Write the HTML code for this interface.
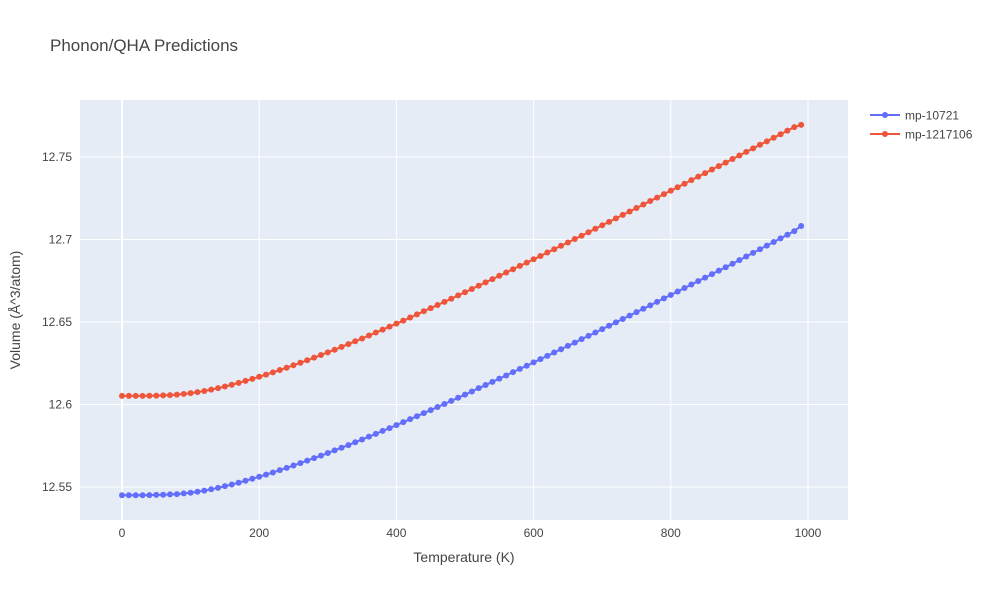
<!DOCTYPE html>
<html><head><meta charset="utf-8"><style>body{margin:0;background:#fff}svg text{font-family:"Liberation Sans",sans-serif}</style></head>
<body>
<svg id="c" width="1000" height="600">
<rect width="1000" height="600" fill="#fff"/>
<text x="50" y="51" font-size="17" fill="#444">Phonon/QHA Predictions</text>
<rect x="80" y="100" width="768" height="420" fill="#e5ecf6"/>
<g id="grid"></g><g id="marks"></g>
<text x="464" y="562" font-size="14" fill="#444" text-anchor="middle">Temperature (K)</text>
<text transform="translate(20,310) rotate(-90)" font-size="14" fill="#444" text-anchor="middle">Volume (Å^3/atom)</text>
<g>
<g><line x1="870" y1="115" x2="900" y2="115" stroke="#636efa" stroke-width="2"/><circle cx="885" cy="115" r="3" fill="#636efa"/><text x="905" y="119.5" font-size="12" fill="#444">mp-10721</text></g>
<g><line x1="870" y1="134" x2="900" y2="134" stroke="#ef553b" stroke-width="2"/><circle cx="885" cy="134" r="3" fill="#ef553b"/><text x="905" y="138.5" font-size="12" fill="#444">mp-1217106</text></g>
</g>
</svg>
<script>
const temps=[];for(let t=0;t<=990;t+=10)temps.push(t);
const blue=[12.5450,12.5450,12.5450,12.5450,12.5451,12.5452,12.5453,12.5455,12.5457,12.5461,
12.5465,12.5471,12.5478,12.5486,12.5495,12.5505,12.5515,12.5526,12.5538,12.5550,
12.5562,12.5575,12.5588,12.5602,12.5616,12.5630,12.5645,12.5660,12.5675,12.5690,
12.5706,12.5722,12.5738,12.5754,12.5771,12.5788,12.5805,12.5822,12.5840,12.5857,
12.5875,12.5893,12.5911,12.5929,12.5948,12.5966,12.5985,12.6003,12.6022,12.6041,
12.6060,12.6079,12.6099,12.6118,12.6137,12.6157,12.6176,12.6196,12.6216,12.6235,
12.6255,12.6275,12.6295,12.6315,12.6335,12.6355,12.6375,12.6396,12.6416,12.6436,
12.6457,12.6477,12.6498,12.6518,12.6539,12.6560,12.6580,12.6601,12.6622,12.6643,
12.6664,12.6685,12.6706,12.6727,12.6748,12.6769,12.6790,12.6811,12.6832,12.6853,
12.6875,12.6897,12.6919,12.6941,12.6963,12.6985,12.7007,12.7029,12.7051,12.7082];
const red=[12.6052,12.6052,12.6052,12.6052,12.6053,12.6054,12.6055,12.6057,12.6060,12.6064,
12.6069,12.6075,12.6082,12.6090,12.6099,12.6109,12.6120,12.6131,12.6143,12.6155,
12.6168,12.6181,12.6195,12.6209,12.6223,12.6238,12.6253,12.6268,12.6284,12.6300,
12.6316,12.6332,12.6349,12.6366,12.6383,12.6400,12.6418,12.6436,12.6454,12.6472,
12.6490,12.6508,12.6527,12.6546,12.6565,12.6584,12.6603,12.6622,12.6641,12.6661,
12.6680,12.6700,12.6720,12.6740,12.6760,12.6780,12.6800,12.6820,12.6840,12.6860,
12.6880,12.6900,12.6921,12.6941,12.6962,12.6982,12.7003,12.7023,12.7044,12.7065,
12.7086,12.7107,12.7128,12.7149,12.7170,12.7191,12.7212,12.7233,12.7254,12.7275,
12.7296,12.7317,12.7338,12.7360,12.7381,12.7402,12.7424,12.7445,12.7466,12.7488,
12.7509,12.7531,12.7552,12.7574,12.7595,12.7617,12.7638,12.7660,12.7681,12.7695];
const xTicks=[0,200,400,600,800,1000];
const yTicks=[12.55,12.6,12.65,12.7,12.75];
const yTickLabels=["12.55","12.6","12.65","12.7","12.75"];
const NS="http://www.w3.org/2000/svg";
const xs=v=>122+v*0.686;
const ys=v=>487-(v-12.55)*1650;
const grid=document.getElementById('grid'),marks=document.getElementById('marks');
function mk(tag,attrs,parent){const e=document.createElementNS(NS,tag);for(const k in attrs)e.setAttribute(k,attrs[k]);parent.appendChild(e);return e;}
xTicks.forEach(t=>{
  const l=mk('line',{x1:xs(t),x2:xs(t),y1:100,y2:520,stroke:'#fff','stroke-width':t===0?2:1},grid);
  
  
  const tx=mk('text',{x:xs(t),y:537,'font-size':12,fill:'#444','text-anchor':'middle'},grid);tx.textContent=t;
  
  
});
yTicks.forEach((t,i)=>{
  const l=mk('line',{x1:80,x2:848,y1:ys(t),y2:ys(t),stroke:'#fff','stroke-width':1},grid);
  
  
  const tx=mk('text',{x:72,y:ys(t)+4,'font-size':12,fill:'#444','text-anchor':'end'},grid);tx.textContent=yTickLabels[i];
  
  
});
function series(vals,color,name){
  const g=mk('g',{},marks);
  
  
  const p=mk('polyline',{points:vals.map((v,i)=>xs(temps[i])+','+ys(v)).join(' '),fill:'none',stroke:color,'stroke-width':2},g);
  
  
  vals.forEach((v,i)=>{
    const c=mk('circle',{cx:xs(temps[i]),cy:ys(v),r:3,fill:color},g);
    
    
  });
}
series(blue,'#636efa','mp-10721');
series(red,'#ef553b','mp-1217106');
</script>
</body></html>
